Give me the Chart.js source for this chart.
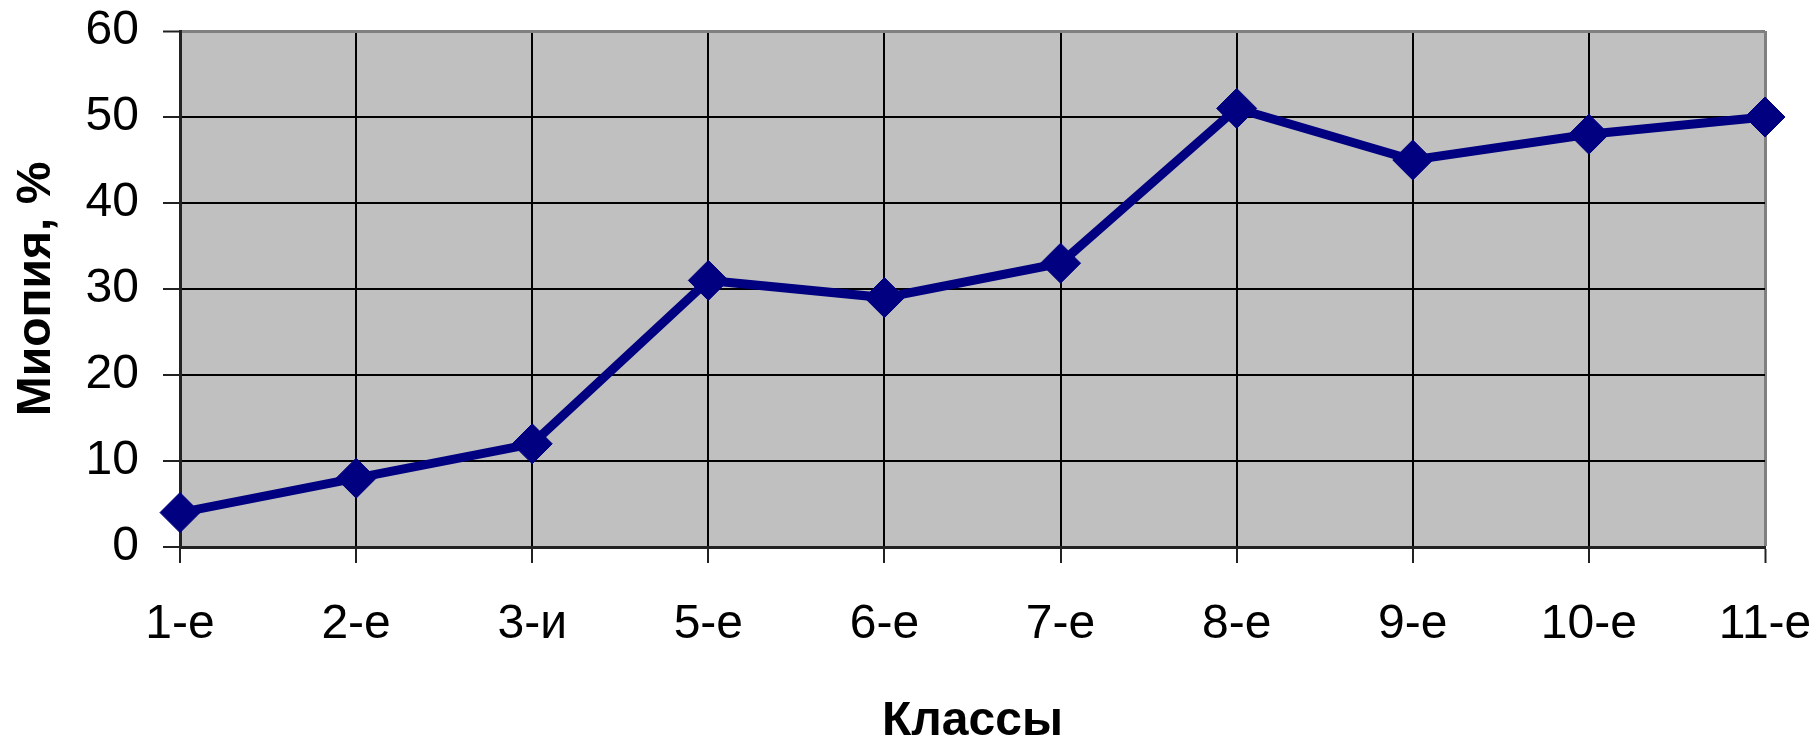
<!DOCTYPE html>
<html>
<head>
<meta charset="utf-8">
<script src="https://cdn.jsdelivr.net/npm/chart.js@4/dist/chart.umd.min.js"></script>
<style>
  html, body { margin: 0; padding: 0; background: #fff; }
  #wrap { width: 1819px; height: 744px; }
</style>
</head>
<body>
<div id="wrap"><canvas id="myChart" width="1819" height="744"></canvas></div>
<script>
// классы и доля миопии
var classes = ["1-е", "2-е", "3-и", "5-е", "6-е", "7-е", "8-е", "9-е", "10-е", "11-е"];
var myopia = [4, 8, 12, 31, 29, 33, 51, 45, 48, 50];
var yTicks = [0, 10, 20, 30, 40, 50, 60];

var tickFont = { family: "'Liberation Sans', Arial, sans-serif", size: 48 };
var titleFont = { family: "'Liberation Sans', Arial, sans-serif", size: 48, weight: "bold" };

// серый фон области построения
var plotBg = {
  id: "plotBg",
  beforeDraw: function (chart) {
    var a = chart.chartArea;
    var ctx = chart.ctx;
    ctx.save();
    ctx.fillStyle = "#c0c0c0";
    ctx.fillRect(a.left, a.top, a.right - a.left, a.bottom - a.top);
    ctx.restore();
  }
};

// фиксированные размеры осей, без авто-отступов под подписи
function fixSize(scale, w, h) {
  if (w) scale.width = w;
  if (h) scale.height = h;
  scale.paddingTop = 0;
  scale.paddingBottom = 0;
  scale.paddingLeft = 0;
  scale.paddingRight = 0;
}

var ctx = document.getElementById("myChart").getContext("2d");
new Chart(ctx, {
  type: "line",
  data: {
    labels: classes,
    datasets: [{
      data: myopia,
      borderColor: "#000080",
      backgroundColor: "#000080",
      borderWidth: 9,
      pointStyle: "rectRot",
      pointRadius: 20,
      pointHoverRadius: 20,
      pointBorderWidth: 1,
      pointBackgroundColor: "#000080",
      pointBorderColor: "#000080",
      tension: 0,
      clip: false
    }]
  },
  options: {
    responsive: false,
    animation: false,
    devicePixelRatio: 1,
    layout: { autoPadding: false, padding: { top: 31, right: 54, left: 0, bottom: 0 } },
    plugins: {
      legend: { display: false },
      tooltip: { enabled: false }
    },
    scales: {
      x: {
        offset: false,
        afterFit: function (scale) { fixSize(scale, 0, 197); },
        grid: {
          color: function (c) { return c.index === classes.length - 1 ? "#808080" : "#000"; },
          lineWidth: function (c) { return c.index === classes.length - 1 ? 3 : 2; },
          tickColor: "#222",
          tickLength: 16,
          tickWidth: 2
        },
        border: { color: "#222", width: 3 },
        ticks: { color: "#000", font: tickFont, padding: 33, maxRotation: 0, autoSkip: false },
        title: { display: true, text: "Классы", color: "#000", font: titleFont, padding: { top: 0, bottom: -7 } }
      },
      y: {
        min: 0,
        max: 60,
        afterFit: function (scale) { fixSize(scale, 180, 0); },
        afterBuildTicks: function (scale) {
          scale.ticks = yTicks.map(function (v) { return { value: v }; });
        },
        grid: {
          color: function (c) { return c.tick && c.tick.value === 60 ? "#808080" : "#000"; },
          lineWidth: function (c) { return c.tick && c.tick.value === 60 ? 3 : 2; },
          tickColor: "#222",
          tickLength: 17,
          tickWidth: 2
        },
        border: { color: "#222", width: 3 },
        ticks: { color: "#000", font: tickFont, padding: 24 },
        title: { display: true, text: "Миопия, %", color: "#000", font: titleFont, padding: { top: 8, bottom: 0 } }
      }
    }
  },
  plugins: [plotBg]
});
</script>
</body>
</html>
